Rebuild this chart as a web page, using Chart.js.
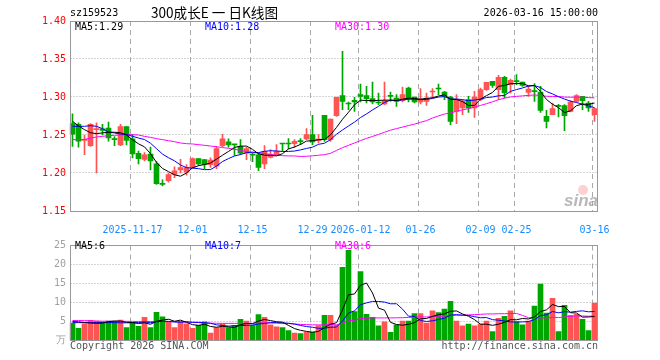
<!DOCTYPE html>
<html><head><meta charset="utf-8">
<script src="https://cdn.jsdelivr.net/npm/chart.js@4/dist/chart.umd.min.js"></script>
<style>
html,body{margin:0;padding:0;background:#fff;}
#wrap{position:relative;width:660px;height:360px;overflow:hidden;}
canvas{position:absolute;left:0;}
</style></head><body>
<div id="wrap">
<canvas id="k" width="660" height="236" style="top:0"></canvas>
<canvas id="v" width="660" height="124" style="top:236px"></canvas>
</div>
<script>
const dates = ['2025-11-03','2025-11-04','2025-11-05','2025-11-06','2025-11-07','2025-11-10','2025-11-11','2025-11-12','2025-11-13','2025-11-14',
'2025-11-17','2025-11-18','2025-11-19','2025-11-20','2025-11-21','2025-11-24','2025-11-25','2025-11-26','2025-11-27','2025-11-28',
'2025-12-01','2025-12-02','2025-12-03','2025-12-04','2025-12-05','2025-12-08','2025-12-09','2025-12-10','2025-12-11','2025-12-12',
'2025-12-15','2025-12-16','2025-12-17','2025-12-18','2025-12-19','2025-12-22','2025-12-23','2025-12-24','2025-12-25','2025-12-26',
'2025-12-29','2025-12-30','2025-12-31','2026-01-05','2026-01-06','2026-01-07','2026-01-08','2026-01-09',
'2026-01-12','2026-01-13','2026-01-14','2026-01-15','2026-01-16','2026-01-19','2026-01-20','2026-01-21','2026-01-22','2026-01-23',
'2026-01-26','2026-01-27','2026-01-28','2026-01-29','2026-01-30','2026-02-02','2026-02-03','2026-02-04','2026-02-05','2026-02-06',
'2026-02-09','2026-02-10','2026-02-11','2026-02-12','2026-02-13','2026-02-24','2026-02-25','2026-02-26','2026-02-27',
'2026-03-02','2026-03-03','2026-03-04','2026-03-05','2026-03-06','2026-03-09','2026-03-10','2026-03-11','2026-03-12','2026-03-13','2026-03-16'];

const open = [1.265,1.264,1.243,1.236,1.257,1.258,1.259,1.245,1.237,1.261,
1.245,1.226,1.218,1.225,1.212,1.186,1.190,1.198,1.204,1.201,
1.2075,1.219,1.2175,1.211,1.209,1.236,1.241,1.2373,1.235,1.226,
1.2245,1.224,1.212,1.2206,1.2241,1.2386,1.2386,1.2386,1.2417,1.2447,
1.2504,1.2425,1.2759,1.2439,1.2754,1.3018,1.2912,1.2956,1.3031,1.3018,
1.2978,1.2925,1.2908,1.3013,1.2987,1.2952,1.3118,1.300,1.2934,1.2943,
1.3066,1.3109,1.3066,1.300,1.2811,1.2855,1.2965,1.2855,1.2965,1.3097,
1.3206,1.3096,1.3259,1.3162,1.3206,1.3197,1.3061,1.3075,1.3066,1.2746,
1.2768,1.2882,1.2886,1.2811,1.2943,1.3009,1.2921,1.2768];
const high = [1.278,1.266,1.250,1.265,1.266,1.264,1.267,1.248,1.264,1.261,
1.251,1.229,1.227,1.234,1.215,1.191,1.200,1.208,1.218,1.211,
1.220,1.219,1.2175,1.220,1.235,1.251,1.245,1.2373,1.244,1.234,
1.2259,1.226,1.236,1.2307,1.2373,1.2386,1.2452,1.2439,1.2452,1.2583,
1.2759,1.2504,1.2759,1.2711,1.300,1.360,1.2934,1.2996,1.3171,1.314,
1.3197,1.3053,1.3197,1.3066,1.3031,1.3132,1.3132,1.300,1.311,1.3053,
1.311,1.3171,1.3075,1.3009,1.3031,1.2965,1.3009,1.3075,1.3118,1.3193,
1.3206,1.3285,1.3272,1.3237,1.3294,1.3197,1.314,1.3175,1.314,1.2825,
1.2921,1.2904,1.290,1.2952,1.3031,1.3009,1.2943,1.2855];
const low = [1.235,1.234,1.224,1.235,1.200,1.250,1.242,1.236,1.236,1.237,
1.220,1.212,1.216,1.204,1.185,1.183,1.188,1.194,1.200,1.197,
1.2066,1.210,1.2057,1.2075,1.2057,1.2347,1.234,1.223,1.224,1.2175,
1.215,1.203,1.2057,1.2197,1.2232,1.2285,1.232,1.2338,1.2373,1.2439,
1.2373,1.2395,1.2417,1.2417,1.2746,1.2833,1.2833,1.2811,1.2934,1.2921,
1.2908,1.2899,1.2899,1.2943,1.2877,1.2934,1.2934,1.2921,1.2908,1.289,
1.2987,1.3031,1.2965,1.2636,1.2649,1.2768,1.2798,1.2732,1.2952,1.3088,
1.3127,1.2969,1.2987,1.305,1.3162,1.314,1.3009,1.2943,1.2798,1.2592,
1.2768,1.2737,1.2557,1.2803,1.293,1.2833,1.2811,1.268];
const close = [1.251,1.242,1.244,1.264,1.258,1.256,1.246,1.244,1.261,1.243,
1.225,1.219,1.224,1.216,1.186,1.185,1.198,1.203,1.207,1.207,
1.219,1.212,1.211,1.217,1.232,1.245,1.237,1.237,1.226,1.232,
1.2235,1.2075,1.2285,1.2245,1.2285,1.2382,1.2382,1.2417,1.2413,1.2504,
1.2408,1.2447,1.2439,1.2711,1.2996,1.2943,1.2908,1.2934,1.3009,1.2978,
1.2934,1.2921,1.2952,1.3009,1.2943,1.3031,1.2987,1.2934,1.2965,1.2987,
1.3075,1.3105,1.3009,1.268,1.2965,1.2943,1.2855,1.300,1.3097,1.3193,
1.3154,1.3259,1.3053,1.3219,1.3202,1.3154,1.3105,1.3071,1.2825,1.268,
1.2846,1.2877,1.2754,1.2934,1.3018,1.2952,1.2855,1.2846];
const ma5 = [1.268,1.262,1.257,1.253,1.2518,1.2528,1.2536,1.2536,1.253,1.250,
1.2438,1.2384,1.2344,1.2254,1.214,1.206,1.2018,1.1976,1.1958,1.200,
1.2068,1.2096,1.2112,1.2132,1.2182,1.2234,1.2284,1.2336,1.2354,1.2354,
1.2311,1.2252,1.2235,1.2232,1.2225,1.2254,1.2316,1.2342,1.2376,1.242,
1.2425,1.2438,1.2442,1.2502,1.260,1.2707,1.2799,1.2898,1.2958,1.2954,
1.2953,1.2955,1.2959,1.2959,1.2952,1.2971,1.2984,1.2981,1.2972,1.2981,
1.299,1.3013,1.3028,1.2971,1.2967,1.294,1.289,1.2889,1.2972,1.3018,
1.306,1.3141,1.3151,1.3176,1.3177,1.3177,1.3147,1.315,1.3071,1.2967,
1.2905,1.286,1.2796,1.2818,1.2886,1.2907,1.2903,1.2921];
const ma10 = [1.2614,1.2614,1.2614,1.2623,1.2614,1.2583,1.254,1.2526,1.2513,1.2509,
1.2483,1.246,1.244,1.2392,1.232,1.2249,1.2201,1.216,1.2106,1.207,
1.2064,1.2057,1.2044,1.2045,1.2091,1.2151,1.219,1.2224,1.2243,1.2268,
1.2273,1.2268,1.2286,1.2293,1.229,1.2283,1.2284,1.2289,1.2304,1.2323,
1.234,1.2377,1.2392,1.2439,1.251,1.2566,1.2619,1.267,1.273,1.2777,
1.283,1.2877,1.2929,1.2959,1.2953,1.2962,1.297,1.297,1.2966,1.2967,
1.2981,1.2999,1.3005,1.2972,1.2974,1.2965,1.2952,1.2959,1.2972,1.2993,
1.300,1.3016,1.302,1.3074,1.3098,1.3119,1.3144,1.3151,1.3124,1.3072,
1.3041,1.3004,1.2973,1.2945,1.2927,1.2906,1.2882,1.2859];
const ma30 = [1.2439,1.2439,1.2443,1.2456,1.2474,1.2482,1.2491,1.2496,1.250,1.2504,
1.2504,1.250,1.2482,1.2469,1.2452,1.2439,1.2425,1.2412,1.2395,1.2386,
1.2382,1.2373,1.2364,1.2355,1.2345,1.2335,1.2325,1.2312,1.2298,1.2282,
1.2273,1.2261,1.2257,1.2244,1.2234,1.2228,1.2225,1.2224,1.2218,1.222,
1.2226,1.2234,1.2241,1.2259,1.2297,1.2333,1.2364,1.2395,1.2426,1.2456,
1.2481,1.2508,1.2536,1.2564,1.2584,1.2604,1.2624,1.2643,1.2667,1.2689,
1.2723,1.2751,1.2776,1.279,1.2812,1.2831,1.2847,1.2866,1.2889,1.2912,
1.2937,1.2964,1.2984,1.3001,1.3008,1.3015,1.3022,1.3026,1.302,1.301,
1.3007,1.3006,1.2999,1.2997,1.2999,1.2997,1.2992,1.2989];
const volume = [4.5,3.1,4.3,5.2,5.0,4.8,5.0,5.0,5.25,3.3,
4.6,3.6,6.0,3.3,7.3,6.1,4.8,3.3,4.8,4.3,
3.1,3.9,4.8,1.8,3.3,4.2,3.3,3.9,5.5,5.0,
3.9,6.75,6.0,4.0,3.5,3.3,2.5,1.8,1.7,2.1,
2.1,3.8,6.5,6.5,3.9,19.2,23.75,7.5,18.1,6.8,
6.0,3.75,4.8,2.0,4.0,5.0,5.0,7.0,7.0,4.5,
7.75,7.25,8.2,10.25,5.0,3.75,4.2,3.75,4.2,5.0,
2.25,5.7,6.25,7.75,4.8,4.0,5.0,9.0,14.8,7.1,
11.0,2.25,9.2,6.5,6.8,5.5,2.5,9.8];
const volMa5 = [4.9,4.8,4.6,4.5,4.42,4.48,4.86,5.0,5.01,4.67,
4.63,4.35,4.55,4.16,4.96,5.26,5.5,4.96,5.26,4.66,
4.06,3.88,4.18,3.58,3.38,3.6,3.48,3.3,4.04,4.38,
4.32,5.01,5.43,5.13,4.83,4.71,3.86,3.02,2.56,2.28,
2.04,2.3,3.24,4.2,4.56,7.98,11.97,12.17,14.49,15.07,
12.43,8.43,7.89,4.67,4.11,3.91,4.16,4.6,5.6,5.7,
6.25,6.7,6.94,7.59,7.69,6.89,6.28,5.39,4.18,4.18,
3.88,4.18,4.68,5.39,5.35,5.7,5.56,6.11,7.52,7.98,
9.38,8.83,8.87,7.21,7.15,6.05,6.1,6.22];
const volMa10 = [4.6,4.6,4.6,4.6,4.6,4.6,4.6,4.6,4.55,4.545,
4.555,4.605,4.775,4.585,4.815,4.945,4.925,4.755,4.71,4.81,
4.66,4.69,4.57,4.42,4.02,3.83,3.68,3.74,3.81,3.88,
3.96,4.245,4.365,4.585,4.605,4.515,4.435,4.225,3.845,3.555,
3.375,3.08,3.13,3.38,3.42,5.01,7.135,7.705,9.345,9.815,
10.205,10.2,10.03,9.58,9.59,8.17,6.295,6.245,5.135,4.905,
5.08,5.43,5.77,6.595,6.695,6.57,6.49,6.165,5.885,5.935,
5.385,5.23,5.035,4.785,4.765,4.79,4.87,5.395,6.455,6.665,
7.54,7.195,7.49,7.365,7.565,7.715,7.465,7.545];
const volMa30 = [5.15,5.15,5.12,5.1,5.0,4.98,4.96,4.95,4.94,4.93,
4.92,4.91,4.9,4.9,4.89,4.88,4.87,4.86,4.84,4.8,
4.7,4.6,4.5,4.45,4.42,4.4,4.4,4.4,4.4,4.41,
4.39,4.51,4.57,4.53,4.48,4.43,4.35,4.24,4.12,4.08,
4.0,4.0,4.02,4.13,4.02,4.45,5.08,5.22,5.67,5.75,
5.85,5.84,5.84,5.85,5.87,5.9,5.96,6.06,6.11,6.09,
6.22,6.24,6.31,6.52,6.57,6.58,6.64,6.71,6.79,6.89,
6.89,6.95,6.95,6.99,7.02,6.51,5.89,5.94,5.83,5.84,
6.0,5.95,6.1,6.25,6.34,6.36,6.28,6.37];

const xTickDates = ['2025-11-17','2025-12-01','2025-12-15','2025-12-29','2026-01-12','2026-01-26','2026-02-09','2026-02-25','2026-03-16'];
const xTickTexts = ['2025-11-17','12-01','12-15','12-29','2026-01-12','01-26','02-09','02-25','03-16'];
const priceTicks = [1.15,1.20,1.25,1.30,1.35,1.40];
const volTicks = [0,5,10,15,20,25];
const volTickTexts = ['万','5','10','15','20','25'];
const priceLegend = ['MA5:1.29','MA10:1.28','MA30:1.30'];
const volLegend = ['MA5:6','MA10:7','MA30:6'];
const headerCode = 'sz159523';
const headerTitle = '300成长E 一 日K线图';
const headerTime = '2026-03-16 15:00:00';
const footLeft = 'Copyright 2026 SINA.COM';
const footRight = 'http://finance.sina.com.cn';

const RED = '#ff5454', GREEN = '#00a600';
const LINE_COLORS = ['#000000','#0000ff','#ff00ff'];
const MONO = '"DejaVu Sans Mono", monospace';
const cols = close.map((c,i)=> c >= open[i] ? RED : GREEN);

const framePlugin = {
  id:'frame',
  beforeDatasetsDraw(chart, args, opts){
    const {ctx, chartArea:a, scales:{x, y}} = chart;
    ctx.save();
    ctx.lineWidth = 1;
    ctx.strokeStyle = '#a8a8a8';
    ctx.setLineDash([1,2]);
    opts.hTicks.forEach(v=>{
      const py = Math.floor(y.getPixelForValue(v)) + 0.5;
      if (py > a.top + 1 && py < a.bottom - 1) {
        ctx.beginPath(); ctx.moveTo(a.left+1, py); ctx.lineTo(a.right, py); ctx.stroke();
      }
    });
    ctx.setLineDash([5,4]);
    xTickDates.forEach(d=>{
      const i = dates.indexOf(d);
      const px = Math.floor(x.getPixelForValue(i) - 2) + 0.5;
      ctx.beginPath(); ctx.moveTo(px, a.top); ctx.lineTo(px, a.bottom); ctx.stroke();
    });
    ctx.restore();
  },
  afterDraw(chart){
    const {ctx, chartArea:a} = chart;
    ctx.save();
    ctx.strokeStyle = '#999';
    ctx.lineWidth = 1;
    const l = Math.round(a.left)+0.5, r = Math.floor(a.right)+0.5, t = Math.floor(a.top)+0.5, b = Math.floor(a.bottom)+0.5;
    ctx.strokeRect(l, t, r-l, b-t);
    ctx.restore();
  }
};

const priceText = {
  id:'priceText',
  afterDraw(chart){
    const ctx = chart.ctx;
    ctx.save();
    ctx.textBaseline = 'middle';
    ctx.font = '10px ' + MONO;
    ctx.fillStyle = '#000';
    ctx.textAlign = 'left';
    ctx.fillText(headerCode, 70, 13);
    ctx.textAlign = 'right';
    ctx.fillText(headerTime, 598, 13);
    ctx.textAlign = 'left';
    ctx.font = '14px "Noto Sans CJK SC", sans-serif';
    ctx.fillText(headerTitle, 151, 13, 127);
    ctx.font = '10px ' + MONO;
    const xs = [75, 205, 335];
    priceLegend.forEach((t,k)=>{ ctx.fillStyle = LINE_COLORS[k]; ctx.fillText(t, xs[k], 27); });
    ctx.fillStyle = 'rgba(255,120,120,0.35)';
    ctx.beginPath(); ctx.arc(583, 190, 5, 0, Math.PI*2); ctx.fill();
    ctx.fillStyle = 'rgba(160,160,160,0.75)';
    ctx.font = 'italic bold 17px "Liberation Sans", sans-serif';
    ctx.fillText('sina', 564, 201);
    ctx.restore();
  }
};

const volText = {
  id:'volText',
  afterDraw(chart){
    const ctx = chart.ctx;
    ctx.save();
    ctx.textBaseline = 'middle';
    ctx.font = '10px ' + MONO;
    const xs = [75, 205, 335];
    volLegend.forEach((t,k)=>{ ctx.fillStyle = LINE_COLORS[k]; ctx.fillText(t, xs[k], 10.5); });
    ctx.fillStyle = '#555';
    ctx.textAlign = 'left';
    ctx.fillText(footLeft, 70, 110);
    ctx.textAlign = 'right';
    ctx.fillText(footRight, 598, 110);
    ctx.restore();
  }
};

const lineDs = (label, data, color) => ({type:'line', label, data, borderColor:color, borderWidth:1, pointRadius:0, tension:0, fill:false, order:0});

new Chart(document.getElementById('k'), {
  type:'bar',
  data:{
    labels: dates,
    datasets:[
      lineDs('MA5', ma5, LINE_COLORS[0]),
      lineDs('MA10', ma10, LINE_COLORS[1]),
      lineDs('MA30', ma30, LINE_COLORS[2]),
      {label:'body', data: dates.map((d,i)=>[open[i], close[i]]), backgroundColor: cols, barThickness:5, grouped:false, minBarLength:1, order:1, borderWidth:0},
      {label:'wick', data: dates.map((d,i)=>[low[i], high[i]]), backgroundColor: cols, barThickness:1, grouped:false, order:2, borderWidth:0}
    ]
  },
  options:{
    responsive:false, animation:false, devicePixelRatio:1, events:[],
    layout:{padding:{top:21, right:62.5, left:0, bottom:0}},
    plugins:{legend:{display:false}, tooltip:{enabled:false}, frame:{hTicks: priceTicks}},
    scales:{
      x:{offset:true, grid:{display:false}, border:{display:false},
         afterFit: s=>{ s.height = 25; },
         ticks:{autoSkip:false, maxRotation:0, minRotation:0, padding:5, color:'#1a8cff', font:{family:MONO, size:10},
           callback:(v,i)=>{ const k = xTickDates.indexOf(dates[i]); return k>=0 ? xTickTexts[k] : ''; }}},
      y:{min:1.15, max:1.40, afterFit: s=>{ s.width = 69.5; },
         afterBuildTicks: s=>{ s.ticks = priceTicks.map(v=>({value:v})); },
         grid:{display:false, drawTicks:false}, border:{display:false},
         ticks:{padding:3.5, color:'#ff0000', font:{family:MONO, size:10}, callback:v=>Number(v).toFixed(2)}}
    }
  },
  plugins:[framePlugin, priceText]
});

new Chart(document.getElementById('v'), {
  type:'bar',
  data:{
    labels: dates,
    datasets:[
      lineDs('VMA5', volMa5, LINE_COLORS[0]),
      lineDs('VMA10', volMa10, LINE_COLORS[1]),
      lineDs('VMA30', volMa30, LINE_COLORS[2]),
      {label:'vol', data: volume, backgroundColor: cols, barThickness:5, grouped:false, order:1, borderWidth:0}
    ]
  },
  options:{
    responsive:false, animation:false, devicePixelRatio:1, events:[],
    layout:{padding:{top:4, right:62.5, left:0, bottom:20}},
    plugins:{legend:{display:false}, tooltip:{enabled:false}, frame:{hTicks: volTicks}},
    scales:{
      x:{display:false, offset:true},
      y:{min:0, max:25, afterFit: s=>{ s.width = 69.5; },
         afterBuildTicks: s=>{ s.ticks = volTicks.map(v=>({value:v})); },
         grid:{display:false, drawTicks:false}, border:{display:false},
         ticks:{padding:3.5, color:'#a0a0a0', font:{family:MONO, size:10},
           callback:v=>{ const k = volTicks.indexOf(Number(v)); return k>=0 ? volTickTexts[k] : ''; }}}
    }
  },
  plugins:[framePlugin, volText]
});
</script>
</body></html>
